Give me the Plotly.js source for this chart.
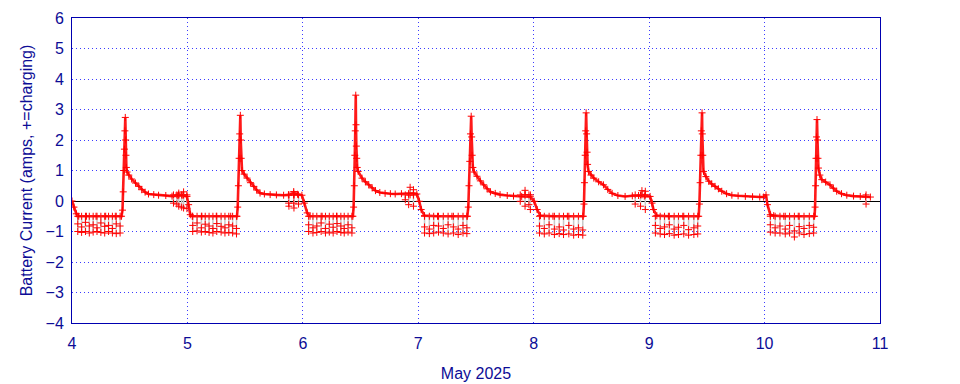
<!DOCTYPE html>
<html>
<head>
<meta charset="utf-8">
<script src="https://cdn.plot.ly/plotly-3.0.1.min.js"></script>
<style>html,body{margin:0;padding:0;background:#fff;}#chart{width:960px;height:384px;}</style>
</head>
<body>
<div id="chart"></div>
<script>
// Hours since 2025-05-04 00:00 and battery current (amps)
const may4Hours = [0,0.4,0.9,1.4,3,5,7,9,10.3,10.5,10.65,10.8,10.9,11.0,11.08,11.15,11.22,11.3,11.45,11.8,12.4,13.2,13.9,14.5,15.2,15.9,17.0,18.0,19.5,20.8,22.0,22.9,23.9,24.25,24.6];
const may4Amps  = [0,-0.2,-0.42,-0.5,-0.5,-0.5,-0.5,-0.5,-0.5,-0.3,0.3,1.0,1.7,2.3,2.74,2.0,1.5,1.1,0.95,0.85,0.72,0.59,0.48,0.37,0.29,0.23,0.21,0.19,0.18,0.16,0.17,0.19,0.15,-0.12,-0.45];

const may5Hours = [25.0,27,30,33,34.3,34.45,34.6,34.75,34.87,35.0,35.08,35.18,35.35,35.8,36.4,37.1,37.8,38.4,39.1,40.0,41.2,42.5,44.0,45.0,46.1,46.9,47.8,48.3,48.9];
const may5Amps  = [-0.5,-0.5,-0.5,-0.5,-0.5,-0.2,0.5,1.4,2.2,2.81,2.0,1.4,1.0,0.88,0.75,0.6,0.48,0.36,0.26,0.23,0.21,0.2,0.19,0.2,0.26,0.22,0.19,-0.07,-0.39];

const may6Hours = [49.5,52,55,58.4,58.55,58.7,58.8,58.9,59.0,59.05,59.12,59.2,59.3,59.5,60.3,61.0,61.7,62.4,63.1,64.0,65.1,66.2,67.2,68.5,70.0,71.0,71.7,72.2,72.6];
const may6Amps  = [-0.5,-0.5,-0.5,-0.5,-0.2,0.5,1.5,2.3,3.47,2.5,1.8,1.4,1.1,0.97,0.75,0.63,0.53,0.43,0.34,0.28,0.25,0.24,0.23,0.24,0.25,0.25,0.23,-0.01,-0.28];

const may7Hours = [73.3,76,79,82.2,82.4,82.55,82.7,82.85,83.0,83.1,83.2,83.35,83.6,84.2,84.9,85.6,86.3,87.0,88.0,89.0,90.5,91.8,93.5,95.3,96.1,96.7];
const may7Amps  = [-0.48,-0.5,-0.5,-0.5,-0.2,0.5,1.3,2.2,2.78,2.1,1.5,1.1,0.95,0.81,0.66,0.53,0.4,0.3,0.25,0.21,0.18,0.16,0.15,0.14,-0.01,-0.28];

const may8Hours = [97.4,100,103,106.3,106.45,106.55,106.7,106.8,106.9,107.0,107.1,107.2,107.4,107.9,108.5,109.5,110.5,111.4,112.3,113.5,115.0,116.5,117.8,119.0,120.2,120.6,120.9];
const may8Amps  = [-0.48,-0.5,-0.5,-0.5,-0.1,0.6,1.5,2.3,2.89,2.2,1.6,1.2,0.97,0.85,0.75,0.63,0.53,0.38,0.25,0.18,0.15,0.17,0.18,0.16,0.15,-0.07,-0.28];

const may9Hours = [121.6,124,127,130.3,130.45,130.6,130.75,130.85,131.0,131.05,131.15,131.3,131.8,132.4,133.0,133.7,134.4,135.1,136.1,137.2,138.5,140.0,141.5,143.0,143.8,144.3,144.6,145.2];
const may9Amps  = [-0.48,-0.5,-0.5,-0.5,-0.1,0.6,1.5,2.3,2.89,2.2,1.5,0.97,0.8,0.65,0.56,0.48,0.4,0.32,0.24,0.19,0.17,0.15,0.14,0.13,0.13,0.2,-0.12,-0.45];

const may10Hours = [145.9,148,151,154.4,154.5,154.6,154.7,154.8,154.9,155.0,155.1,155.2,155.5,155.9,156.7,157.6,158.3,159.0,160.0,161.1,162.5,163.9,165.0,166.0];
const may10Amps  = [-0.48,-0.5,-0.5,-0.5,-0.2,0.5,1.4,2.1,2.67,2.0,1.4,1.08,0.85,0.70,0.62,0.53,0.42,0.32,0.24,0.19,0.16,0.15,0.14,0.13];

// Night-time short discharge dips (hours, upper marker, lowest marker)
const nightLevel = -0.5;
const dipHours = [1.2,2.0,2.8,3.6,4.4,5.2,6.0,6.8,7.6,8.4,9.2,10.0,
  25.1,26.0,26.9,27.7,28.5,29.3,30.1,31.0,31.8,32.6,33.4,34.2,
  49.2,50.1,50.9,51.8,52.7,53.5,54.3,55.1,55.9,56.6,57.4,58.2,
  73.3,74.3,75.2,76.2,77.2,78.2,79.3,80.3,81.3,82.1,
  97.2,98.2,99.2,100.3,101.3,102.2,103.3,104.3,105.3,106.2,
  121.3,122.3,123.2,124.2,125.2,126.1,127.2,128.2,129.3,130.1,
  145.2,146.2,147.2,148.3,149.2,150.2,151.2,152.2,153.3,154.2];
const dipUppers = [-0.75,-0.85,-0.7,-0.82,-0.78,-0.88,-0.72,-0.83,-0.8,-0.9,-0.75,-0.82,
  -0.8,-0.72,-0.88,-0.76,-0.82,-0.9,-0.74,-0.83,-0.88,-0.78,-0.82,-0.9,
  -0.78,-0.88,-0.82,-0.72,-0.9,-0.76,-0.86,-0.74,-0.82,-0.9,-0.78,-0.88,
  -0.85,-0.92,-0.8,-0.82,-0.9,-0.78,-0.85,-0.92,-0.8,-0.88,
  -0.82,-0.9,-0.78,-0.92,-0.85,-0.95,-0.8,-0.92,-0.88,-0.95,
  -0.8,-0.9,-0.85,-0.78,-0.92,-0.86,-0.8,-0.94,-0.88,-0.82,
  -0.78,-0.88,-0.82,-0.92,-0.8,-0.98,-0.84,-0.9,-0.8,-0.86];
const dipLows = [-1.0,-1.03,-1.0,-1.05,-1.02,-1.0,-1.03,-1.05,-1.0,-1.05,-1.07,-1.05,
  -1.0,-0.98,-1.02,-1.0,-1.03,-1.05,-1.0,-1.02,-1.05,-1.03,-1.05,-1.08,
  -1.0,-1.05,-1.03,-1.0,-1.05,-1.02,-1.05,-1.0,-1.03,-1.05,-1.02,-1.05,
  -1.05,-1.07,-1.05,-1.02,-1.05,-1.08,-1.05,-1.1,-1.05,-1.07,
  -1.05,-1.08,-1.05,-1.1,-1.07,-1.1,-1.08,-1.12,-1.1,-1.12,
  -1.05,-1.08,-1.1,-1.07,-1.12,-1.1,-1.08,-1.12,-1.1,-1.08,
  -1.02,-1.05,-1.05,-1.08,-1.05,-1.18,-1.05,-1.1,-1.07,-1.05];

// Late-afternoon scattered readings around the float level
const dayLevel = 0.2;
const excHours = [21.1,21.8,22.2,22.8,23.2,23.9,22.2,23.2,
  45.05,45.1,46.1,46.15,47.1,46.1,
  69.3,70.0,71.0,70.3,71.0,
  93.2,94.2,95.3,95.0,94.2,
  117.1,118.2,119.2,118.5,119.2,
  165.1];
const excAmps = [-0.07,-0.1,-0.17,-0.2,-0.23,-0.25,0.26,0.3,
  -0.07,-0.17,-0.07,-0.23,-0.1,0.31,
  0.04,-0.12,-0.17,0.45,0.37,
  -0.01,-0.17,-0.28,-0.12,0.35,
  -0.1,-0.17,-0.28,0.34,0.32,
  -0.1];

const xTicks = [4,5,6,7,8,9,10,11];
const startDay = 4;

const toDay = h => startDay + h / 24;

const trendH = [].concat(may4Hours, may5Hours, may6Hours, may7Hours, may8Hours, may9Hours, may10Hours);
const trendA = [].concat(may4Amps, may5Amps, may6Amps, may7Amps, may8Amps, may9Amps, may10Amps);

const dipX = [], dipY = [];
dipHours.forEach((h, i) => {
  const d = toDay(h);
  dipX.push(d, d, d, null);
  dipY.push(nightLevel, dipUppers[i], dipLows[i], null);
});
const excX = [], excY = [];
excHours.forEach((h, i) => {
  const d = toDay(h);
  excX.push(d, d, null);
  excY.push(dayLevel, excAmps[i], null);
});

const mk = {symbol: 'cross-thin', size: 5, color: '#ff0000', line: {color: '#ff0000', width: 1}};

const traces = [
  {x: dipX, y: dipY, mode: 'lines+markers', line: {color: '#c8c8c8', width: 1.5}, marker: mk, hoverinfo: 'skip', connectgaps: false},
  {x: excX, y: excY, mode: 'lines+markers', line: {color: '#c8c8c8', width: 1.5}, marker: mk, hoverinfo: 'skip', connectgaps: false},
  {x: trendH.map(toDay), y: trendA, mode: 'lines+markers', line: {color: '#ff1a1a', width: 2.6}, marker: mk}
];

const tickColor = '#0c0c96';
const fontFam = 'Liberation Sans, Arial, sans-serif';
const axisCommon = {
  showgrid: true, gridcolor: '#3c3cff', griddash: '1px,3px', gridwidth: 1,
  showline: true, mirror: true, linecolor: '#0000b0', linewidth: 1,
  ticks: '', tickfont: {family: fontFam, size: 16, color: tickColor}
};

const layout = {
  width: 960, height: 384,
  margin: {l: 72, r: 80, t: 18, b: 61},
  paper_bgcolor: '#ffffff', plot_bgcolor: '#ffffff',
  showlegend: false,
  font: {family: fontFam, color: tickColor},
  xaxis: Object.assign({}, axisCommon, {
    range: [4, 11], tickvals: xTicks, ticktext: xTicks.map(String), zeroline: false,
    ticklabelstandoff: 6,
    title: {text: 'May 2025', font: {family: fontFam, size: 16, color: tickColor}, standoff: 16}
  }),
  yaxis: Object.assign({}, axisCommon, {
    range: [-4, 6], dtick: 1, tick0: 0,
    ticklabelstandoff: 4,
    zeroline: true, zerolinecolor: '#000000', zerolinewidth: 1,
    title: {text: 'Battery Current (amps, +=charging)', font: {family: fontFam, size: 16, color: tickColor}, standoff: 8}
  })
};

Plotly.newPlot('chart', traces, layout, {displayModeBar: false, staticPlot: true});
</script>
</body>
</html>
